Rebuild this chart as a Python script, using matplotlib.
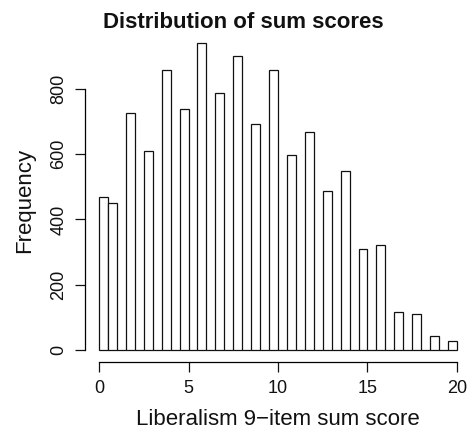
import numpy as np
import matplotlib
matplotlib.use("Agg")
import matplotlib.pyplot as plt

plt.rcParams["font.family"] = ["Liberation Sans", "DejaVu Sans"]

# counts of each sum score 0..20
scores = np.arange(0, 21)
counts = [470, 449, 726, 611, 859, 737, 942, 787, 901, 694, 857,
          597, 668, 488, 547, 311, 322, 117, 109, 44, 29]

# half-unit bins like R's hist(): score 0 -> [0, .5], score k -> (k-.5, k]
breaks = np.arange(0, 20.5, 0.5)
freq = np.zeros(len(breaks) - 1)
for s, c in zip(scores, counts):
    idx = 0 if s == 0 else int(2 * s - 1)
    freq[idx] = c

W, H = 469, 429
fig = plt.figure(figsize=(W / 100, H / 100), dpi=100)
x0, x1 = 84.7, 471.3
y_top, y_bot = 30.3, 362.3
ax = fig.add_axes([x0 / W, (H - y_bot) / H, (x1 - x0) / W, (y_bot - y_top) / H])

ax.bar(breaks[:-1], freq, width=0.5, align="edge", facecolor="white",
       edgecolor="#111111", linewidth=0.9)

ymax = max(counts)
ax.set_xlim(-0.04 * 20, 20 * 1.04)
ax.set_ylim(-0.04 * ymax, ymax * 1.04)

for side in ("top", "right"):
    ax.spines[side].set_visible(False)
ax.spines["left"].set_bounds(0, 800)
ax.spines["bottom"].set_bounds(0, 20)
ax.spines["left"].set_linewidth(0.9)
ax.spines["bottom"].set_linewidth(0.9)

ax.set_xticks([0, 5, 10, 15, 20])
ax.set_yticks([0, 200, 400, 600, 800])
ax.tick_params(axis="both", direction="out", length=7.5, width=0.9,
               labelsize=13, colors="#111111", pad=5)
for lab in ax.get_yticklabels():
    lab.set_rotation(90)
    lab.set_va("center")

# titles placed in figure pixels
fig.text(243 / W, 1 - 28 / H, "Distribution of sum scores", fontsize=16,
         fontweight="bold", ha="center", va="baseline", color="#111111")
fig.text(277.5 / W, 1 - 425 / H, "Liberalism 9\u2212item sum score", fontsize=16,
         ha="center", va="baseline", color="#111111")
fig.text(25 / W, 1 - 200 / H, "Frequency", fontsize=16, rotation=90,
         ha="center", va="center", color="#111111")

fig.savefig("out.png", dpi=100)
